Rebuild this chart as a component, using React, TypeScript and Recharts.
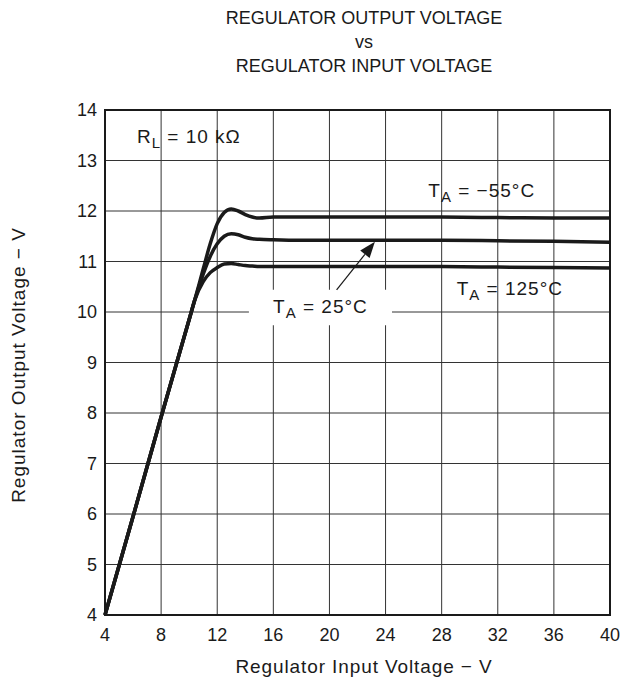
import React from "react";
import {
  LineChart,
  Line,
  XAxis,
  YAxis,
  CartesianGrid,
  ReferenceArea,
  ReferenceDot,
  ReferenceLine,
} from "recharts";

// regulator input voltage (V)
const inputVoltage = [4, 6, 8, 10, 10.4, 11, 11.5, 12, 12.5, 13, 13.5, 14, 14.5, 15, 16, 18, 20, 24, 28, 32, 36, 40];
// regulator output voltage (V) per ambient temperature
const outMinus55 = [4, 5.95, 7.92, 9.85, 10.24, 10.85, 11.35, 11.75, 11.97, 12.04, 12.0, 11.93, 11.88, 11.86, 11.88, 11.88, 11.88, 11.88, 11.88, 11.87, 11.86, 11.86];
const out25 = [4, 5.95, 7.92, 9.85, 10.24, 10.75, 11.1, 11.35, 11.5, 11.55, 11.53, 11.48, 11.45, 11.44, 11.43, 11.42, 11.42, 11.42, 11.42, 11.41, 11.4, 11.38];
const out125 = [4, 5.95, 7.92, 9.85, 10.24, 10.6, 10.78, 10.88, 10.95, 10.96, 10.94, 10.92, 10.91, 10.9, 10.9, 10.9, 10.9, 10.9, 10.9, 10.89, 10.88, 10.87];

const xTicks = [4, 8, 12, 16, 20, 24, 28, 32, 36, 40];
const yTicks = [4, 5, 6, 7, 8, 9, 10, 11, 12, 13, 14];

const chartData = inputVoltage.map((v, i) => ({
  vin: v,
  m55: outMinus55[i],
  t25: out25[i],
  t125: out125[i],
}));

const FONT = "'Liberation Sans', Arial, sans-serif";
const INK = "#1a1a1a";

// text with a subscript, anchored at the dot position (left/baseline)
const note = (main: string, sub: string, rest: string) => (p: any) => (
  <text x={p.cx} y={p.cy} fontFamily={FONT} fontSize={19} letterSpacing={1} fill={INK}>
    {main}
    <tspan fontSize={15} dy={5}>{sub}</tspan>
    <tspan dy={-5}>{rest}</tspan>
  </text>
);

const Arrow = (p: any) => {
  const { x1, y1, x2, y2 } = p;
  const ang = Math.atan2(y2 - y1, x2 - x1);
  const len = 16;
  const half = 6;
  const bx = x2 - len * Math.cos(ang);
  const by = y2 - len * Math.sin(ang);
  const px = -Math.sin(ang) * half;
  const py = Math.cos(ang) * half;
  return (
    <g>
      <line x1={x1} y1={y1} x2={bx} y2={by} stroke={INK} strokeWidth={1.2} />
      <polygon points={`${x2},${y2} ${bx + px},${by + py} ${bx - px},${by - py}`} fill={INK} />
    </g>
  );
};

const App: React.FC = () => {
  return (
    <div style={{ position: "absolute", left: 0, top: 0, width: 621, height: 680, fontFamily: FONT, color: INK, background: "#fff" }}>
      <div style={{ position: "absolute", left: 164, top: 6, width: 400, textAlign: "center", fontSize: 18, lineHeight: "24px" }}>
        <div>REGULATOR OUTPUT VOLTAGE</div>
        <div>vs</div>
        <div>REGULATOR INPUT VOLTAGE</div>
      </div>
      <div style={{ position: "absolute", left: 164, top: 655, width: 400, textAlign: "center", fontSize: 19, letterSpacing: 0.9, lineHeight: "24px" }}>
        Regulator Input Voltage − V
      </div>
      <div
        style={{
          position: "absolute",
          left: 19 - 200,
          top: 365 - 12,
          width: 400,
          height: 24,
          textAlign: "center",
          fontSize: 19,
          letterSpacing: 1,
          lineHeight: "24px",
          transform: "rotate(-90deg)",
        }}
      >
        Regulator Output Voltage − V
      </div>
      <LineChart
        width={621}
        height={680}
        data={chartData}
        margin={{ top: 110, right: 11, bottom: 0, left: 0 }}
        style={{ position: "absolute", left: 0, top: 0 }}
      >
        <CartesianGrid stroke="#333" strokeWidth={1} />
        <XAxis
          dataKey="vin"
          type="number"
          domain={[4, 40]}
          ticks={xTicks}
          height={65}
          tickLine={false}
          tickSize={0}
          tickMargin={13}
          axisLine={{ stroke: INK, strokeWidth: 2 }}
          tick={{ fontSize: 18, fill: INK, fontFamily: FONT }}
        />
        <YAxis
          type="number"
          domain={[4, 14]}
          ticks={yTicks}
          width={105}
          tickLine={false}
          tickSize={0}
          tickMargin={8}
          axisLine={{ stroke: INK, strokeWidth: 2 }}
          tick={{ fontSize: 18, fill: INK, fontFamily: FONT }}
        />
        <ReferenceArea x1={14.26} x2={24.46} y1={9.74} y2={10.44} fill="#fff" fillOpacity={1} stroke="none" />
        <ReferenceArea x1={4} x2={40} y1={4} y2={14} fill="none" stroke={INK} strokeWidth={2} />
        <Line type="monotone" dataKey="m55" stroke={INK} strokeWidth={3.5} dot={false} isAnimationActive={false} />
        <Line type="monotone" dataKey="t25" stroke={INK} strokeWidth={3.5} dot={false} isAnimationActive={false} />
        <Line type="monotone" dataKey="t125" stroke={INK} strokeWidth={3.5} dot={false} isAnimationActive={false} />
        <ReferenceLine
          segment={[{ x: 20.51, y: 10.44 }, { x: 23.24, y: 11.39 }]}
          shape={Arrow}
        />
        <ReferenceDot x={6.28} y={13.34} r={0} shape={note("R", "L", " = 10 kΩ")} />
        <ReferenceDot x={27.05} y={12.28} r={0} shape={note("T", "A", " = −55°C")} />
        <ReferenceDot x={29.07} y={10.34} r={0} shape={note("T", "A", " = 125°C")} />
        <ReferenceDot x={15.98} y={9.99} r={0} shape={note("T", "A", " = 25°C")} />
      </LineChart>
    </div>
  );
};

export default App;
